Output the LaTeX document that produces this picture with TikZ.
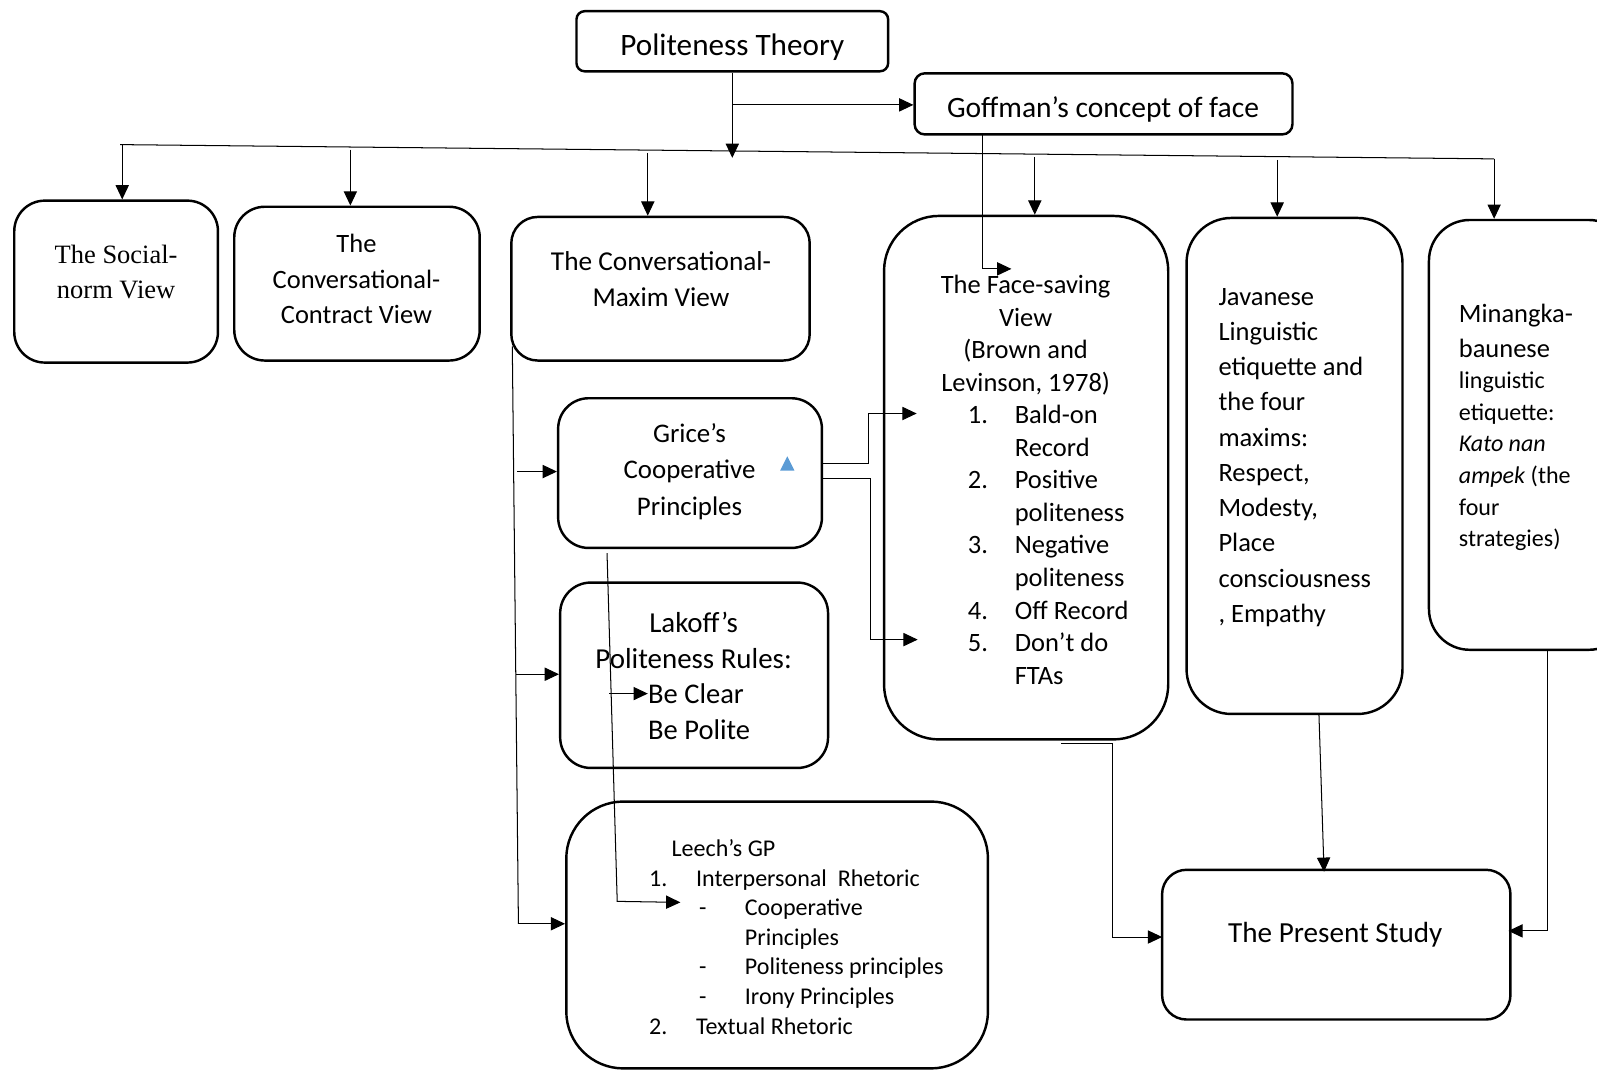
\documentclass[tikz,border=0pt]{standalone}
\usepackage{fontspec}
\setmainfont{Carlito}
\newfontfamily\tnr{Liberation Serif}
\usetikzlibrary{arrows.meta,fit,calc}
\definecolor{triblue}{RGB}{91,155,213}
\begin{document}
\begin{tikzpicture}[x=0.5pt,y=-0.5pt,
  box/.style={draw, line width=1.2pt, rounded corners=#1, inner sep=0pt},
  txt/.style={inner sep=0pt, align=center},
  ltxt/.style={inner sep=0pt, align=left, anchor=west},
  conn/.style={line width=0.5pt},
  arr/.style={line width=0.5pt, -{Triangle[length=7pt,width=6.5pt]}},
]
\useasboundingbox (0,0) rectangle (1568,1052);
\clip (0,0) rectangle (1568,1052);

% boxes
\node[box=4pt, fit={(566,11) (872,70)}] (pt) {};
\node[txt, font=\fontsize{15.3}{18}\selectfont] (ptT) at (719,46) {Politeness Theory};

\node[box=5pt, fit={(898,72) (1269,132)}] (gf) {};
\node[txt, font=\fontsize{14.5}{18}\selectfont] (gfT) at (1083,107) {Goffman’s concept of face};

\node[box=15pt, fit={(14,197) (214,356)}] (sn) {};
\node[txt, font=\tnr\fontsize{13}{17}\selectfont] (snT) at (114,267) {The Social-\\norm View};

\node[box=15pt, fit={(230,203) (471,354)}] (cc) {};
\node[txt, font=\fontsize{13}{17.5}\selectfont] (ccT) at (350,274) {The\\Conversational-\\Contract View};

\node[box=13pt, fit={(502,213) (795,354)}] (cm) {};
\node[txt, font=\fontsize{13.4}{18}\selectfont] (cmT) at (649,274) {The Conversational-\\Maxim View};

\node[box=27pt, fit={(868,212) (1147,726)}] (fs) {};
\node[txt, font=\fontsize{13}{16}\selectfont] (fsT) at (1007,329) {The Face-saving\\View\\(Brown and\\Levinson, 1978)};
\node[ltxt, font=\fontsize{13}{16}\selectfont] (fsL) at (950,535) {%
\makebox[23pt][l]{1.}Bald-on\\
\hspace*{23pt}Record\\
\makebox[23pt][l]{2.}Positive\\
\hspace*{23pt}politeness\\
\makebox[23pt][l]{3.}Negative\\
\hspace*{23pt}politeness\\
\makebox[23pt][l]{4.}Off Record\\
\makebox[23pt][l]{5.}Don’t do\\
\hspace*{23pt}FTAs};

\node[box=22pt, fit={(1165,214) (1377,701)}] (jv) {};
\node[ltxt, font=\fontsize{13}{17.3}\selectfont] (jvT) at (1196,449) {Javanese\\Linguistic\\etiquette and\\the four\\maxims:\\Respect,\\Modesty,\\Place\\consciousness\\, Empathy};

\node[box=20pt, fit={(1403,216) (1600,638)}] (mk) {};
\node[ltxt, font=\fontsize{13}{17}\selectfont] (mkA) at (1432,325) {Minangka-\\baunese};
\node[ltxt, font=\fontsize{11.8}{15.5}\selectfont] (mkB) at (1432,453) {linguistic\\etiquette:\\\textit{Kato nan}\\\textit{ampek} (the\\four\\strategies)};

\node[box=15pt, fit={(548,391) (807,538)}] (gr) {};
\node[txt, font=\fontsize{13.2}{17.8}\selectfont] (grT) at (677,463) {Grice’s\\Cooperative\\Principles};
\fill[triblue] (766,462) -- (780,462) -- (773,448) -- cycle;

\node[box=15pt, fit={(550,572) (813,754)}] (lk) {};
\node[txt, font=\fontsize{14.2}{17.5}\selectfont] (lkA) at (681,628.5) {Lakoff’s\\Politeness Rules:};
\node[ltxt, font=\fontsize{14}{17.5}\selectfont] (lkB) at (636,699) {Be Clear\\Be Polite};

\node[box=28pt, fit={(556,787) (970,1049)}] (le) {};
\node[ltxt, font=\fontsize{11.8}{14.5}\selectfont] (leT) at (637,920) {%
\hspace*{11pt}Leech’s GP\\
\makebox[23pt][l]{1.}Interpersonal\ \ Rhetoric\\
\hspace*{24.5pt}\makebox[22.5pt][l]{-}Cooperative\\
\hspace*{47pt}Principles\\
\hspace*{24.5pt}\makebox[22.5pt][l]{-}Politeness principles\\
\hspace*{24.5pt}\makebox[22.5pt][l]{-}Irony Principles\\
\makebox[23pt][l]{2.}Textual Rhetoric};

\node[box=12pt, fit={(1141,854) (1483,1001)}] (ps) {};
\node[txt, font=\fontsize{14.3}{18}\selectfont] (psT) at (1311,918) {The Present Study};

% connectors
\coordinate (busL) at (118,142);
\coordinate (busR) at (1467,156);
\draw[conn] (busL) -- (busR);
\coordinate (ptE) at (719,155);
\draw[arr] (pt.south) -- (ptE);

\coordinate (d1) at (120,142);
\coordinate (d2) at (344,147);
\coordinate (d3) at (636,150);
\coordinate (d4) at (1016,154);
\coordinate (d5) at (1254,157);
\draw[arr] (d1) -- (d1 |- sn.north);
\draw[arr] (d2) -- (d2 |- cc.north);
\draw[arr] (d3) -- (d3 |- cm.north);
\draw[arr] (d4) -- (d4 |- fs.north);
\draw[arr] (d5) -- (d5 |- jv.north);
\draw[arr] (busR) -- (busR |- mk.north);

\coordinate (g0) at (720,103);
\draw[arr] (g0) -- (g0 -| gf.west);
\coordinate (g1) at (965,132);
\coordinate (g2) at (993,264);
\draw[arr] (g1) |- (g2);

\coordinate (m1) at (503,340);
\coordinate (m2) at (509,907);
\draw[conn] (m1) -- (m2);
\coordinate (b1) at (508,463);
\coordinate (b2) at (507,662);
\draw[arr] (b1) -- (b1 -| gr.west);
\draw[arr] (b2) -- (b2 -| lk.west);
\draw[arr] (m2) -- (m2 -| le.west);

\coordinate (r1) at (807,455);
\coordinate (r1e) at (900,406);
\draw[arr] (r1) -| ($(r1e)+(-47,0)$) -- (r1e);
\coordinate (r2) at (807,470);
\coordinate (r2e) at (901,628);
\draw[arr] (r2) -| ($(r2e)+(-46,0)$) -- (r2e);

\coordinate (q1) at (596,543);
\coordinate (q2) at (606,885);
\coordinate (q3) at (668,886);
\draw[arr] (q1) -- (q2) -- (q3);
\coordinate (c1) at (598,681);
\coordinate (c2) at (636,681);
\draw[arr] (c1) -- (c2);

\coordinate (f1) at (1042,730);
\coordinate (f2) at (1092,730);
\coordinate (f3) at (1141,920);
\draw[arr] (f1) -- (f2) |- (f3);
\coordinate (j1) at (1295,702);
\coordinate (j2) at (1300,856);
\draw[arr] (j1) -- (j2);
\coordinate (n1) at (1519,638);
\coordinate (n2) at (1481,914);
\draw[arr] (n1) |- (n2);
\end{tikzpicture}
\end{document}
